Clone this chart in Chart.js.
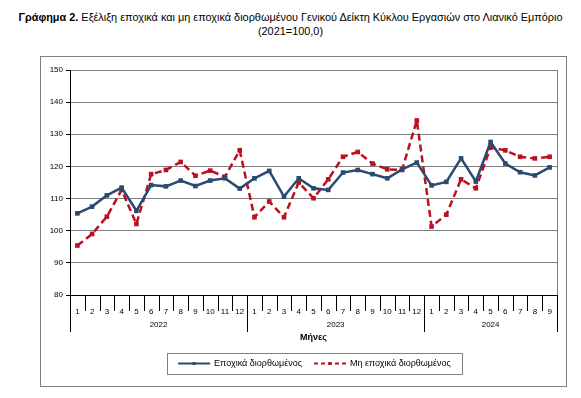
<!DOCTYPE html>
<html><head><meta charset="utf-8">
<script src="https://cdn.jsdelivr.net/npm/chart.js@4"></script>
<style>
body{margin:0;background:#fff;width:581px;height:398px;position:relative;overflow:hidden;font-family:"Liberation Sans",Arial,sans-serif;color:#000;}
.t{position:absolute;left:0;width:581px;text-align:center;font-size:10.9px;white-space:nowrap;}
#t1{top:11px;}
#t2{top:25px;}
#frame{position:absolute;left:40px;top:56px;width:525px;height:329px;border:1px solid #7f7f7f;}
#wrap{position:relative;width:525px;height:329px;}
</style></head>
<body>
<div class="t" id="t1"><b>Γράφημα 2.</b> Εξέλιξη εποχικά και μη εποχικά διορθωμένου Γενικού Δείκτη Κύκλου Εργασιών στο Λιανικό Εμπόριο</div>
<div class="t" id="t2">(2021=100,0)</div>
<div id="frame"><div id="wrap"><canvas id="c"></canvas></div></div>
<script>
const months = ['1','2','3','4','5','6','7','8','9','10','11','12','1','2','3','4','5','6','7','8','9','10','11','12','1','2','3','4','5','6','7','8','9'];
const years = ['2022','2023','2024'];
const monthsPerYear = [12,12,9];
const axisTitle = 'Μήνες';
const seriesNames = ['Εποχικά διορθωμένος','Μη εποχικά διορθωμένος'];
const seasonallyAdjusted = [105.4,107.5,111.0,113.4,106.2,114.2,113.8,115.6,113.9,115.6,116.3,113.1,
  116.3,118.6,110.6,116.3,113.2,112.7,118.1,118.9,117.6,116.3,119.1,121.2,
  114.1,115.2,122.5,115.3,127.6,120.9,118.2,117.2,119.7];
const notAdjusted = [95.4,99.0,104.4,112.7,102.1,117.6,118.9,121.4,117.1,118.7,116.8,125.0,
  104.2,109.1,104.2,115.0,110.1,116.0,123.0,124.5,120.9,119.1,118.9,134.3,
  101.3,105.0,116.0,113.2,125.9,125.0,123.0,122.5,123.0];
const yTicks = [80,90,100,110,120,130,140,150];

const BLUE = '#2A4A70', RED = '#BA1020';
const FONT = '"Liberation Sans", Arial, sans-serif';

const decor = {
  id: 'decor',
  afterDraw(chart) {
    const ctx = chart.ctx, ca = chart.chartArea;
    const n = months.length, w = (ca.right - ca.left) / n;
    ctx.save();
    ctx.strokeStyle = '#7f7f7f'; ctx.lineWidth = 1;
    ctx.beginPath(); ctx.moveTo(Math.round(ca.right)+0.5, ca.top); ctx.lineTo(Math.round(ca.right)+0.5, ca.bottom); ctx.stroke();
    const bounds = [0]; monthsPerYear.forEach(m => bounds.push(bounds[bounds.length-1] + m));
    ctx.strokeStyle = '#000';
    for (let k = 0; k <= n; k++) {
      const x = Math.round(ca.left + k * w) + 0.5;
      const long = bounds.includes(k);
      ctx.beginPath(); ctx.moveTo(x, ca.bottom); ctx.lineTo(x, ca.bottom + (long ? 37 : 16)); ctx.stroke();
    }
    ctx.fillStyle = '#000'; ctx.font = '8px ' + FONT; ctx.textAlign = 'center'; ctx.textBaseline = 'middle';
    years.forEach((y, i) => {
      const cx = ca.left + (bounds[i] + bounds[i+1]) / 2 * w;
      ctx.fillText(y, cx, ca.bottom + 30);
    });
    ctx.font = 'bold 9px ' + FONT;
    ctx.fillText(axisTitle, (ca.left + ca.right) / 2, ca.bottom + 43);
    ctx.font = '9px ' + FONT; ctx.textAlign = 'left';
    const ly = 306.5, sample = 32, gapT = 4, gapI = 12, padX = 11;
    const w0 = ctx.measureText(seriesNames[0]).width, w1 = ctx.measureText(seriesNames[1]).width;
    const total = sample + gapT + w0 + gapI + sample + gapT + w1;
    const cxm = 273.5;
    let x0 = cxm - total / 2;
    ctx.strokeStyle = '#7f7f7f'; ctx.lineWidth = 1;
    ctx.strokeRect(Math.round(x0 - padX) + 0.5, 296.5, Math.round(total + 2 * padX), 21);
    const items = [[BLUE, [], seriesNames[0], w0], [RED, [4, 3], seriesNames[1], w1]];
    items.forEach(([col, dash, txt, tw]) => {
      ctx.strokeStyle = col; ctx.lineWidth = 2; ctx.setLineDash(dash);
      ctx.beginPath(); ctx.moveTo(x0, ly); ctx.lineTo(x0 + sample, ly); ctx.stroke();
      ctx.setLineDash([]); ctx.fillStyle = col;
      ctx.fillRect(x0 + sample / 2 - 1.5, ly - 1.5, 3, 3);
      ctx.fillStyle = '#000';
      ctx.fillText(txt, x0 + sample + gapT, ly + 0.5);
      x0 += sample + gapT + tw + gapI;
    });
    ctx.restore();
  }
};

new Chart(document.getElementById('c'), {
  type: 'line',
  data: {
    labels: months,
    datasets: [
      { label: seriesNames[0], data: seasonallyAdjusted, borderColor: BLUE, backgroundColor: BLUE,
        borderWidth: 2.5, pointStyle: 'rect', pointRadius: 1.5, pointHoverRadius: 1.5, tension: 0 },
      { label: seriesNames[1], data: notAdjusted, borderColor: RED, backgroundColor: RED,
        borderWidth: 2.5, borderDash: [7, 4], pointStyle: 'rect', pointRadius: 1.5, pointHoverRadius: 1.5, tension: 0 }
    ]
  },
  options: {
    responsive: true, maintainAspectRatio: false, animation: false,
    layout: { padding: { top: 13, right: 9, left: 0, bottom: 0 } },
    plugins: { legend: { display: false }, tooltip: { enabled: false }, title: { display: false } },
    scales: {
      x: {
        offset: true,
        grid: { display: false },
        border: { display: true, color: '#000', width: 1 },
        ticks: { color: '#000', font: { size: 8, family: FONT }, padding: 4, maxRotation: 0, autoSkip: false },
        afterFit(s) { s.height = 91; }
      },
      y: {
        min: 80, max: 150,
        afterBuildTicks(s) { s.ticks = yTicks.map(v => ({ value: v })); },
        grid: { color: '#7f7f7f', lineWidth: 1, tickLength: 4, tickColor: '#000' },
        border: { display: true, color: '#000', width: 1 },
        ticks: { color: '#000', font: { size: 8, family: FONT }, padding: 3 },
        afterFit(s) { s.width = 29; }
      }
    }
  },
  plugins: [decor]
});
</script>
</body></html>
